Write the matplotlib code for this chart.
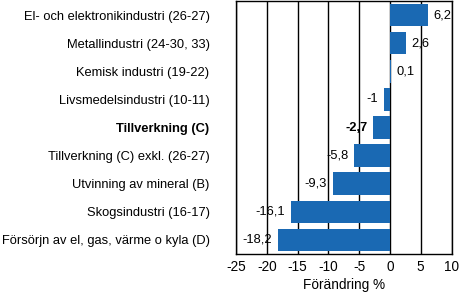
import matplotlib
matplotlib.use("Agg")
import matplotlib.pyplot as plt

categories = [
    "El- och elektronikindustri (26-27)",
    "Metallindustri (24-30, 33)",
    "Kemisk industri (19-22)",
    "Livsmedelsindustri (10-11)",
    "Tillverkning (C)",
    "Tillverkning (C) exkl. (26-27)",
    "Utvinning av mineral (B)",
    "Skogsindustri (16-17)",
    "Försörjn av el, gas, värme o kyla (D)",
]
values = [6.2, 2.6, 0.1, -1.0, -2.7, -5.8, -9.3, -16.1, -18.2]
value_labels = ["6,2", "2,6", "0,1", "-1", "-2,7", "-5,8", "-9,3", "-16,1", "-18,2"]
bold_index = 4
xticks = [-25, -20, -15, -10, -5, 0, 5, 10]
xlabel = "Förändring %"

plt.rcParams['font.family'] = ['Liberation Sans', 'DejaVu Sans']
plt.rcParams['font.size'] = 9.3

fig = plt.figure(figsize=(4.59, 2.93), dpi=100)
ax = fig.add_axes([236/459, 1 - 254/293, (451.5-236)/459, (254-1)/293])

y = list(range(len(categories)))
ax.barh(y, values, height=0.8, color="#1a69b3", zorder=3)
ax.set_ylim(len(categories) - 0.5, -0.5)
ax.set_xlim(-25, 10)
ax.set_xticks(xticks)
ax.set_xticklabels([str(t) for t in xticks], fontsize=9.8)
ax.set_yticks(y)
ax.set_yticklabels(categories)
for i, lab in enumerate(ax.get_yticklabels()):
    if i == bold_index:
        lab.set_fontweight("bold")
ax.tick_params(axis="y", length=0, pad=19)
ax.tick_params(axis="x", length=0, pad=4.5)
ax.grid(axis="x", color="black", linewidth=1, zorder=1)
for s in ax.spines.values():
    s.set_color("black")
    s.set_linewidth(1)

for i, (v, t) in enumerate(zip(values, value_labels)):
    w = "bold" if i == bold_index else "normal"
    if v >= 0:
        ax.annotate(t, (v, i), xytext=(4, 0), textcoords="offset points",
                    ha="left", va="center", fontweight=w, zorder=4)
    else:
        ax.annotate(t, (v, i), xytext=(-4, 0), textcoords="offset points",
                    ha="right", va="center", fontweight=w, zorder=4)

ax.set_xlabel(xlabel, labelpad=3, fontsize=9.8)
fig.savefig("out.png", dpi=100)
